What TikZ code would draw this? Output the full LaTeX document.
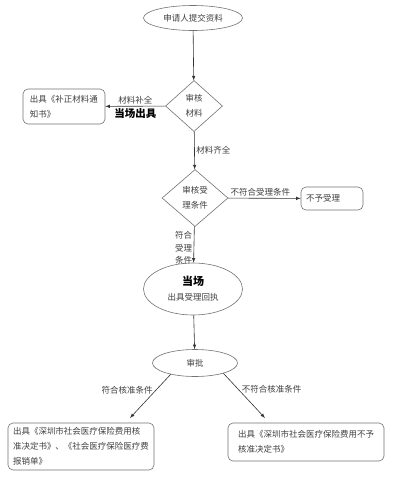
\documentclass[tikz,border=0pt]{standalone}
\usepackage{fontspec}
\usepackage{tikz}
\usetikzlibrary{shapes.geometric}
\newfontfamily\cjk{Noto Sans CJK SC}

\tikzset{
  oval/.style={ellipse, draw=black!55, inner sep=0pt, align=center},
  check/.style={diamond, draw=black!55, inner sep=0pt, align=center},
  result/.style={draw=black!55, rounded corners=5pt, inner sep=0pt, align=left},
  note/.style={inner sep=1.5pt, text=black!75},
}

\begin{document}
\begin{tikzpicture}[x=1pt, y=-1pt, >=latex, line width=0.6pt,
    font=\cjk\fontsize{8.5}{15}\selectfont, text=black!75]
        \useasboundingbox (0,0) rectangle (406,480);
        \fill[white] (0,0) rectangle (406,480);

        \node[oval, minimum width=99pt, minimum height=25pt] (apply) at (193,18) {申请人提交资料};

        \node[check, minimum width=57pt, minimum height=51pt] (checkdocs) at (194,106) {审核\\材料};
        \node[result, minimum width=82pt, minimum height=35pt] (supplement) at (64,106.5) {出具《补正材料通\\知书》};

        \node[check, minimum width=66pt, minimum height=57pt] (checkcond) at (195,198) {审核受\\理条件};
        \node[result, minimum width=62pt, minimum height=23pt] (refuse) at (332,198.5) {不予受理\hspace{18pt}};

        \node[oval, minimum width=99pt, minimum height=52pt] (receipt) at (193,289)
            {{\bfseries\color{black}\fontsize{11}{14}\selectfont 当场}\\出具受理回执};

        \node[oval, minimum width=85pt, minimum height=27pt] (approve) at (195,363) {审批};

        \node[result, minimum width=146pt, minimum height=47pt] (granted) at (81,446.5)
            {出具《深圳市社会医疗保险费用核\\准决定书》、《社会医疗保险医疗费\\报销单》};
        \node[result, minimum width=156pt, minimum height=38pt] (denied) at (306,442)
            {出具《深圳市社会医疗保险费用不予\\核准决定书》};

        \coordinate (grantedin) at (130,418);
        \coordinate (deniedin) at (265,418);

        \draw[->, black!80] (apply) -- (checkdocs);
        \draw[->, black!80] (checkdocs) -- (supplement)
            node[midway, above, note] {材料补全}
            node[midway, below, note, text=black, font=\cjk\bfseries\fontsize{10.5}{12}\selectfont] {当场出具};
        \draw[->, black!80] (checkdocs) -- (checkcond) node[midway, right, note] {材料齐全};
        \draw[->, black!80] (checkcond) -- (refuse) node[midway, above, note, xshift=-4pt] {不符合受理条件};
        \draw[->, black!80] (checkcond) -- (receipt)
            node[pos=0.6, left, note, align=center, font=\cjk\fontsize{8.5}{12.5}\selectfont] {符合\\受理\\条件};
        \draw[->, black!80] (receipt) -- (approve);
        \draw[->, black!80] (approve.205) -- (grantedin) node[pos=0.4, left, note, yshift=2pt] {符合核准条件};
        \draw[->, black!80] (approve.-20) -- (deniedin) node[pos=0.4, right, note, yshift=2pt] {不符合核准条件};

    \end{tikzpicture}
\end{document}
